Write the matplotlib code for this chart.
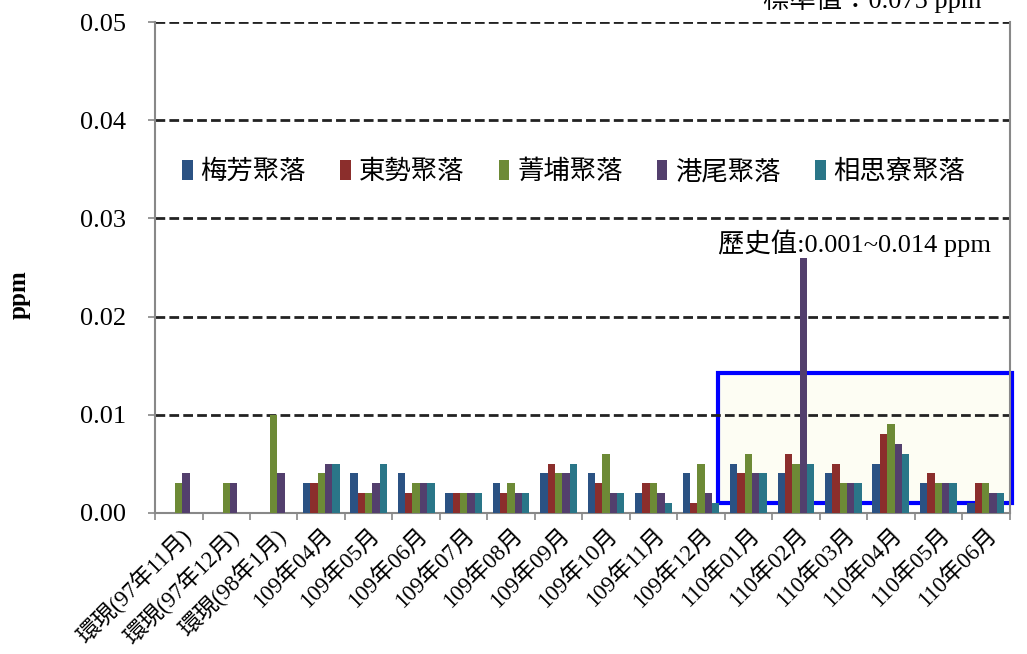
import numpy as np
import matplotlib.pyplot as plt
from matplotlib.patches import Rectangle

plt.rcParams['font.family'] = ['Liberation Serif', 'Noto Sans CJK TC']

# 月份
categories = ['環現(97年11月)', '環現(97年12月)', '環現(98年1月)',
              '109年04月', '109年05月', '109年06月', '109年07月', '109年08月',
              '109年09月', '109年10月', '109年11月', '109年12月',
              '110年01月', '110年02月', '110年03月', '110年04月', '110年05月', '110年06月']

series_names = ['梅芳聚落', '東勢聚落', '菁埔聚落', '港尾聚落', '相思寮聚落']

# ppm, None = no data
meifang = [None, None, None, 0.003, 0.004, 0.004, 0.002, 0.003, 0.004, 0.004, 0.002, 0.004,
           0.005, 0.004, 0.004, 0.005, 0.003, 0.001]
dongshi = [None, None, None, 0.003, 0.002, 0.002, 0.002, 0.002, 0.005, 0.003, 0.003, 0.001,
           0.004, 0.006, 0.005, 0.008, 0.004, 0.003]
jingpu = [0.003, 0.003, 0.010, 0.004, 0.002, 0.003, 0.002, 0.003, 0.004, 0.006, 0.003, 0.005,
          0.006, 0.005, 0.003, 0.009, 0.003, 0.003]
gangwei = [0.004, 0.003, 0.004, 0.005, 0.003, 0.003, 0.002, 0.002, 0.004, 0.002, 0.002, 0.002,
           0.004, 0.026, 0.003, 0.007, 0.003, 0.002]
xiangsi = [None, None, None, 0.005, 0.005, 0.003, 0.002, 0.002, 0.005, 0.002, 0.001, 0.001,
           0.004, 0.005, 0.003, 0.006, 0.003, 0.002]

colors = ['#2b5283', '#8b2e2c', '#6d8a36', '#533f6d', '#2a7688']

hist_low, hist_high = 0.001, 0.014

fig = plt.figure(figsize=(10.27, 6.54), dpi=100)
ax = fig.add_axes([0.151, 0.216, 0.832, 0.75])

x = np.arange(len(categories))
w = 0.155
all_series = [meifang, dongshi, jingpu, gangwei, xiangsi]
for i, (vals, name, c) in enumerate(zip(all_series, series_names, colors)):
    v = np.array([np.nan if a is None else a for a in vals])
    ax.bar(x + (i - 2) * w, v, width=w, color=c, label=name, zorder=3)

ax.set_xlim(-0.5, len(categories) - 0.5)
ax.set_ylim(0, 0.05)
ax.set_yticks(np.arange(0, 0.051, 0.01))
ax.set_yticklabels(['%.2f' % t for t in np.arange(0, 0.051, 0.01)], fontsize=19)

for t in np.arange(0.01, 0.051, 0.01):
    ax.axhline(t, color='#222222', lw=2, ls=(0, (3.5, 1.5)), zorder=2)

ax.spines['top'].set_visible(False)
for s in ['left', 'right', 'bottom']:
    ax.spines[s].set_color('#888888')
    ax.spines[s].set_linewidth(1.5)

ax.set_xticks(x)
ax.set_xticklabels(categories, rotation=45, ha='right', rotation_mode='anchor', fontsize=16.5)
ax.tick_params(axis='x', length=0, pad=8)
ax.set_xticks(np.arange(-0.5, len(categories), 1), minor=True)
ax.tick_params(axis='x', which='minor', length=5, color='#888888', width=1.2)
ax.tick_params(axis='y', length=5, color='#888888', width=1.2, pad=16)

ax.set_ylabel('ppm', fontsize=18, fontweight='bold')
ax.yaxis.set_label_coords(-0.146, 0.444)

# 歷史值範圍框
rect = Rectangle((11.35, hist_low), 6.21, hist_high - hist_low + 0.0002, facecolor='#fdfdf3',
                 edgecolor='#0000ff', lw=3, zorder=1, clip_on=False)
ax.add_patch(rect)
ax.text(17.1, 0.0275, '歷史值:0.001~0.014 ppm', ha='right', va='center', fontsize=19, zorder=4)

leg = ax.legend(loc='center', bbox_to_anchor=(0.49, 0.695), ncol=5, frameon=False,
                fontsize=19, handlelength=0.4, handleheight=0.8, handletextpad=0.3,
                columnspacing=1.3)

fig.text(0.743, 1 - 8 / 654, '標準值：0.075 ppm', fontsize=19, va='baseline')

fig.savefig('out.png', dpi=100)
